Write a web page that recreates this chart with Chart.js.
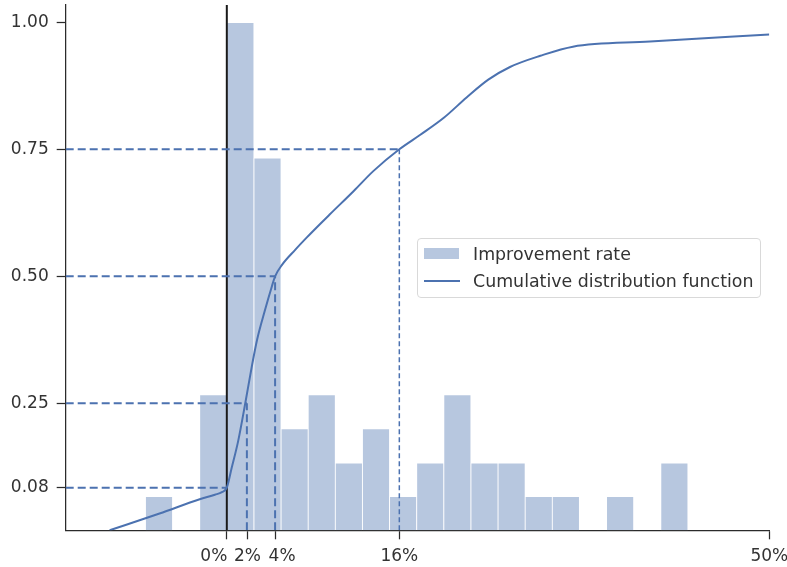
<!DOCTYPE html>
<html>
<head>
<meta charset="utf-8">
<script src="https://cdn.jsdelivr.net/npm/chart.js@4.4.0/dist/chart.umd.min.js"></script>
<style>
html,body{margin:0;padding:0;background:#fff;}
#wrap{position:relative;width:787px;height:567px;overflow:hidden;}
canvas{display:block;}
#legend{position:absolute;left:417px;top:238px;width:344px;height:60px;border:1px solid #d9d9d9;border-radius:4px;background:rgba(255,255,255,0.85);box-sizing:border-box;font-family:"DejaVu Sans";font-size:17.4px;color:#333;}
#legend .row{position:absolute;left:0;height:22px;line-height:22px;white-space:nowrap;}
#legend .patch{position:absolute;left:6px;top:5px;width:35px;height:11px;background:#b7c7df;}
#legend .ln{position:absolute;left:6px;top:10px;width:36px;height:2px;background:#4c72b0;}
#legend .txt{position:absolute;left:55px;top:0;}
</style>
</head>
<body>
<div id="wrap">
<canvas id="c" width="787" height="567"></canvas>
<div id="legend">
  <div class="row" style="top:4px;"><span class="patch"></span><span class="txt">Improvement rate</span></div>
  <div class="row" style="top:31px;"><span class="ln"></span><span class="txt">Cumulative distribution function</span></div>
</div>
</div>
<script>
// ---- data ----
const binCenters = [-6.25, -3.75, -1.25, 1.25, 3.75, 6.25, 8.75, 11.25, 13.75, 16.25, 18.75, 21.25, 23.75, 26.25, 28.75, 31.25, 33.75, 36.25, 38.75, 41.25];
const binHeights = [0.067, 0, 0.267, 1.0, 0.733, 0.2, 0.267, 0.133, 0.2, 0.067, 0.133, 0.267, 0.133, 0.133, 0.067, 0.067, 0, 0.067, 0, 0.133];

const cdfX = [-10.8, -6.2, -2.5, -1.1, -0.45, 0, 0.45, 1.05, 1.7, 2.3, 2.8, 3.5, 4.15, 4.45, 5.07, 6.3, 7.4, 8.6, 9.5, 11.7, 13.5, 15.9, 17.8, 20.0, 22.1, 24.1, 26.1, 28.9, 31.9, 39.0, 50.0];
const cdfY = [0, 0.033, 0.061, 0.070, 0.075, 0.084, 0.123, 0.176, 0.25, 0.322, 0.376, 0.432, 0.48, 0.5, 0.522, 0.552, 0.577, 0.603, 0.622, 0.668, 0.707, 0.75, 0.778, 0.812, 0.852, 0.887, 0.912, 0.934, 0.952, 0.962, 0.976];

const quantileLevels = [0.084, 0.25, 0.5, 0.75];
const quantileX = [0, 1.85, 4.45, 15.9];

const xTickValues = [0, 1.9, 4.45, 15.9, 50];
const xTickLabels = ['0%', '2%', '4%', '16%', '50%'];
const yTickValues = [0.084, 0.25, 0.5, 0.75, 1.0];
const yTickLabels = ['0.08', '0.25', '0.50', '0.75', '1.00'];

const xRange = [-14.85, 50];
const yRange = [0, 1.034];

// ---- styling ----
const BLUE = '#4c72b0';
const INK = '#2b2b2b';
const FONT = {family: 'DejaVu Sans', size: 17};
const xLabelNudge = [-13, 0, 7, 0, 0]; // px shift of tick labels, as in the reference

const datasets = [];
datasets.push({
  type: 'bar', label: 'Improvement rate', xAxisID: 'xh', yAxisID: 'y',
  data: binCenters.map((x, i) => ({x: x, y: binHeights[i]})),
  backgroundColor: '#b7c7df', borderColor: 'rgba(255,255,255,0.95)',
  borderWidth: {left: 0.8, right: 0.8, top: 1, bottom: 0}, borderSkipped: false,
  barPercentage: 1, categoryPercentage: 1, grouped: false, order: 4
});
datasets.push({
  type: 'line', xAxisID: 'x', yAxisID: 'y',
  data: [{x: 0, y: yRange[0]}, {x: 0, y: yRange[1]}],
  borderColor: '#1a1a1a', borderWidth: 2, pointRadius: 0, order: 3
});
quantileLevels.forEach((lv, i) => {
  datasets.push({
    type: 'line', xAxisID: 'x', yAxisID: 'y',
    data: [{x: xRange[0], y: lv}, {x: quantileX[i], y: lv}],
    borderColor: BLUE, borderWidth: 2, borderDash: [8, 4], pointRadius: 0, order: 2
  });
  if (quantileX[i] > 0) {
    const thin = i === quantileLevels.length - 1;
    datasets.push({
      type: 'line', xAxisID: 'x', yAxisID: 'y',
      data: [{x: quantileX[i], y: yRange[0]}, {x: quantileX[i], y: lv}],
      borderColor: BLUE, borderWidth: thin ? 1.5 : 2, borderDash: thin ? [5, 3] : [8, 4],
      pointRadius: 0, order: 2
    });
  }
});
datasets.push({
  type: 'line', label: 'Cumulative distribution function', xAxisID: 'x', yAxisID: 'y',
  data: cdfX.map((x, i) => ({x: x, y: cdfY[i]})),
  borderColor: BLUE, borderWidth: 2, pointRadius: 0, cubicInterpolationMode: 'monotone', order: 1
});

const nudgePlugin = {
  id: 'nudge',
  beforeDraw(chart) {
    const items = chart.scales.x.getLabelItems();
    if (items._nudged) return;
    items.forEach((it, i) => {
      const t = it.options.translation;
      it.options.translation = [t[0] + (xLabelNudge[i] || 0), t[1]];
    });
    items._nudged = true;
  }
};

new Chart(document.getElementById('c'), {
  type: 'line',
  data: {datasets: datasets},
  plugins: [nudgePlugin],
  options: {
    responsive: false, animation: false, devicePixelRatio: 1,
    layout: {padding: {top: 5, right: 17.7, left: 0, bottom: 0}},
    plugins: {legend: {display: false}, tooltip: {enabled: false}},
    scales: {
      x: {
        type: 'linear', position: 'bottom', min: xRange[0], max: xRange[1], offset: false,
        grid: {display: true, drawOnChartArea: false, drawTicks: true, tickLength: 9, tickWidth: 1.25, tickColor: INK},
        border: {display: true, color: INK, width: 1.25},
        ticks: {font: FONT, color: '#333', padding: 7, autoSkip: false, maxRotation: 0,
                callback: (v, i) => xTickLabels[i]},
        afterBuildTicks: s => { s.ticks = xTickValues.map(v => ({value: v})); },
        afterFit: s => { s.height = 36.7; s.paddingLeft = 0; s.paddingRight = 0; }
      },
      xh: {
        type: 'linear', display: false, min: xRange[0], max: xRange[1], offset: false,
        afterBuildTicks: s => { s.ticks = binCenters.map(v => ({value: v})); },
        afterFit: s => { s.paddingLeft = 0; s.paddingRight = 0; }
      },
      y: {
        type: 'linear', min: yRange[0], max: yRange[1],
        grid: {display: true, drawOnChartArea: false, drawTicks: true, tickLength: 9, tickWidth: 1.25, tickColor: INK},
        border: {display: true, color: INK, width: 1.25},
        ticks: {font: FONT, color: '#333', padding: 8, callback: (v, i) => yTickLabels[i]},
        afterBuildTicks: s => { s.ticks = yTickValues.map(v => ({value: v})); },
        afterFit: s => { s.width = 65.7; s.paddingTop = 0; s.paddingBottom = 0; }
      }
    }
  }
});
</script>
</body>
</html>
